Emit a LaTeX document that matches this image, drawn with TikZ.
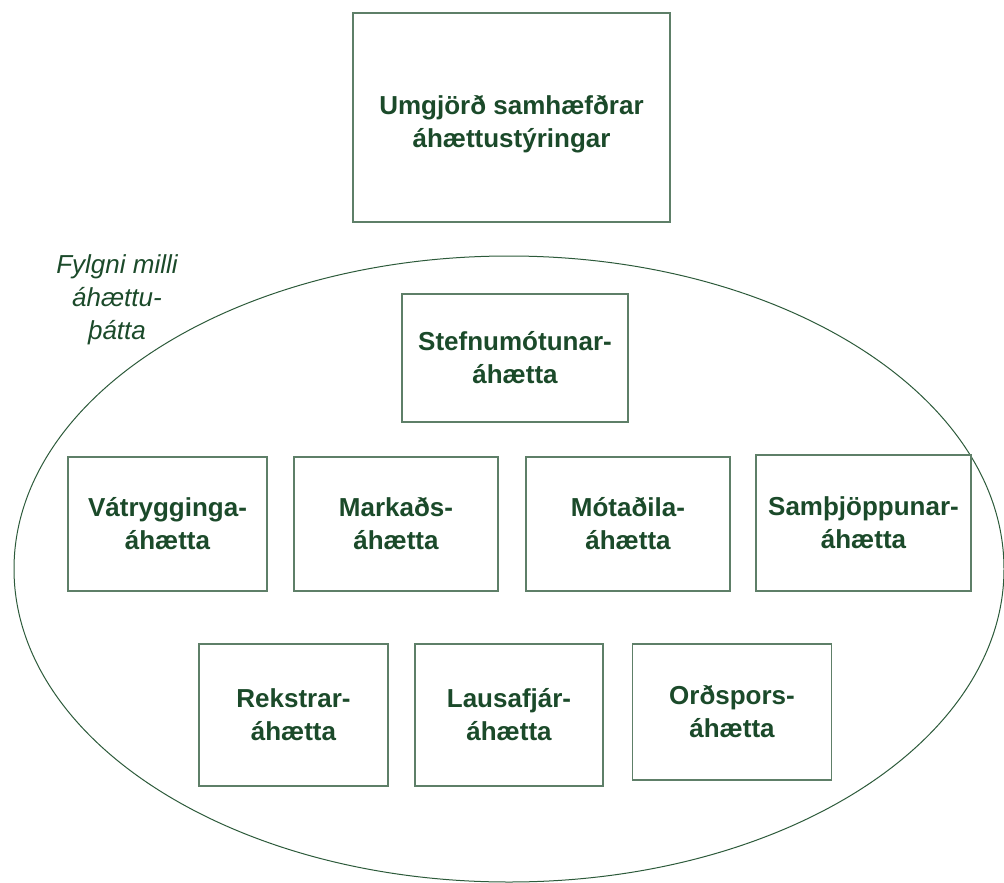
\documentclass[tikz,border=0pt]{standalone}
\usepackage{fontspec}
\setmainfont{Liberation Sans}
\usetikzlibrary{positioning}

\definecolor{riskgreen}{HTML}{1B4A2A}
\definecolor{boxline}{HTML}{5E7F68}
\definecolor{ovalline}{HTML}{2C5A3A}

\begin{document}
\begin{tikzpicture}[x=1pt, y=-1pt,
        riskbox/.style={rectangle, align=center, draw=boxline, line width=1.2pt, text=riskgreen,
                        font=\bfseries\fontsize{26}{33}\selectfont},
        risktext/.style={align=center, text=riskgreen, font=\bfseries\fontsize{26}{33}\selectfont},
        oval/.style={draw=ovalline, line width=1pt}]
        \useasboundingbox (0,0) rectangle (1004,883);

        % the group of risk types
        \draw[oval] (509,569) ellipse [x radius=495pt, y radius=313pt];
        \node[text=riskgreen, align=center, font=\itshape\fontsize{26}{33}\selectfont] (corr) at (117,300) {Fylgni milli\\áhættu-\\þátta};

        \node[riskbox, minimum width=317pt, minimum height=209pt] (frame) at (511.5,117.5) {};
        \node[risktext] (frametext) [below=7pt of frame.center, anchor=center] {Umgjörð samhæfðrar\\áhættustýringar};

        \node[riskbox, minimum width=226pt, minimum height=128pt] (strategy) at (515,358) {Stefnumótunar-\\áhætta};

        \node[riskbox, minimum width=199pt, minimum height=134pt] (insurance) at (167.5,524) {Vátrygginga-\\áhætta};
        \node[riskbox, minimum width=204pt, minimum height=134pt] (market) at (396,524) {Markaðs-\\áhætta};
        \node[riskbox, minimum width=204pt, minimum height=134pt] (counterparty) at (628,524) {Mótaðila-\\áhætta};
        \node[riskbox, minimum width=215pt, minimum height=136pt] (concentration) at (863.5,523) {Samþjöppunar-\\áhætta};

        \node[riskbox, minimum width=189pt, minimum height=142pt] (operational) at (293.5,715) {Rekstrar-\\áhætta};
        \node[riskbox, minimum width=188pt, minimum height=142pt] (liquidity) at (509,715) {Lausafjár-\\áhætta};
        \node[riskbox, minimum width=199pt, minimum height=136pt] (reputation) at (732,712) {Orðspors-\\áhætta};
    \end{tikzpicture}
\end{document}
